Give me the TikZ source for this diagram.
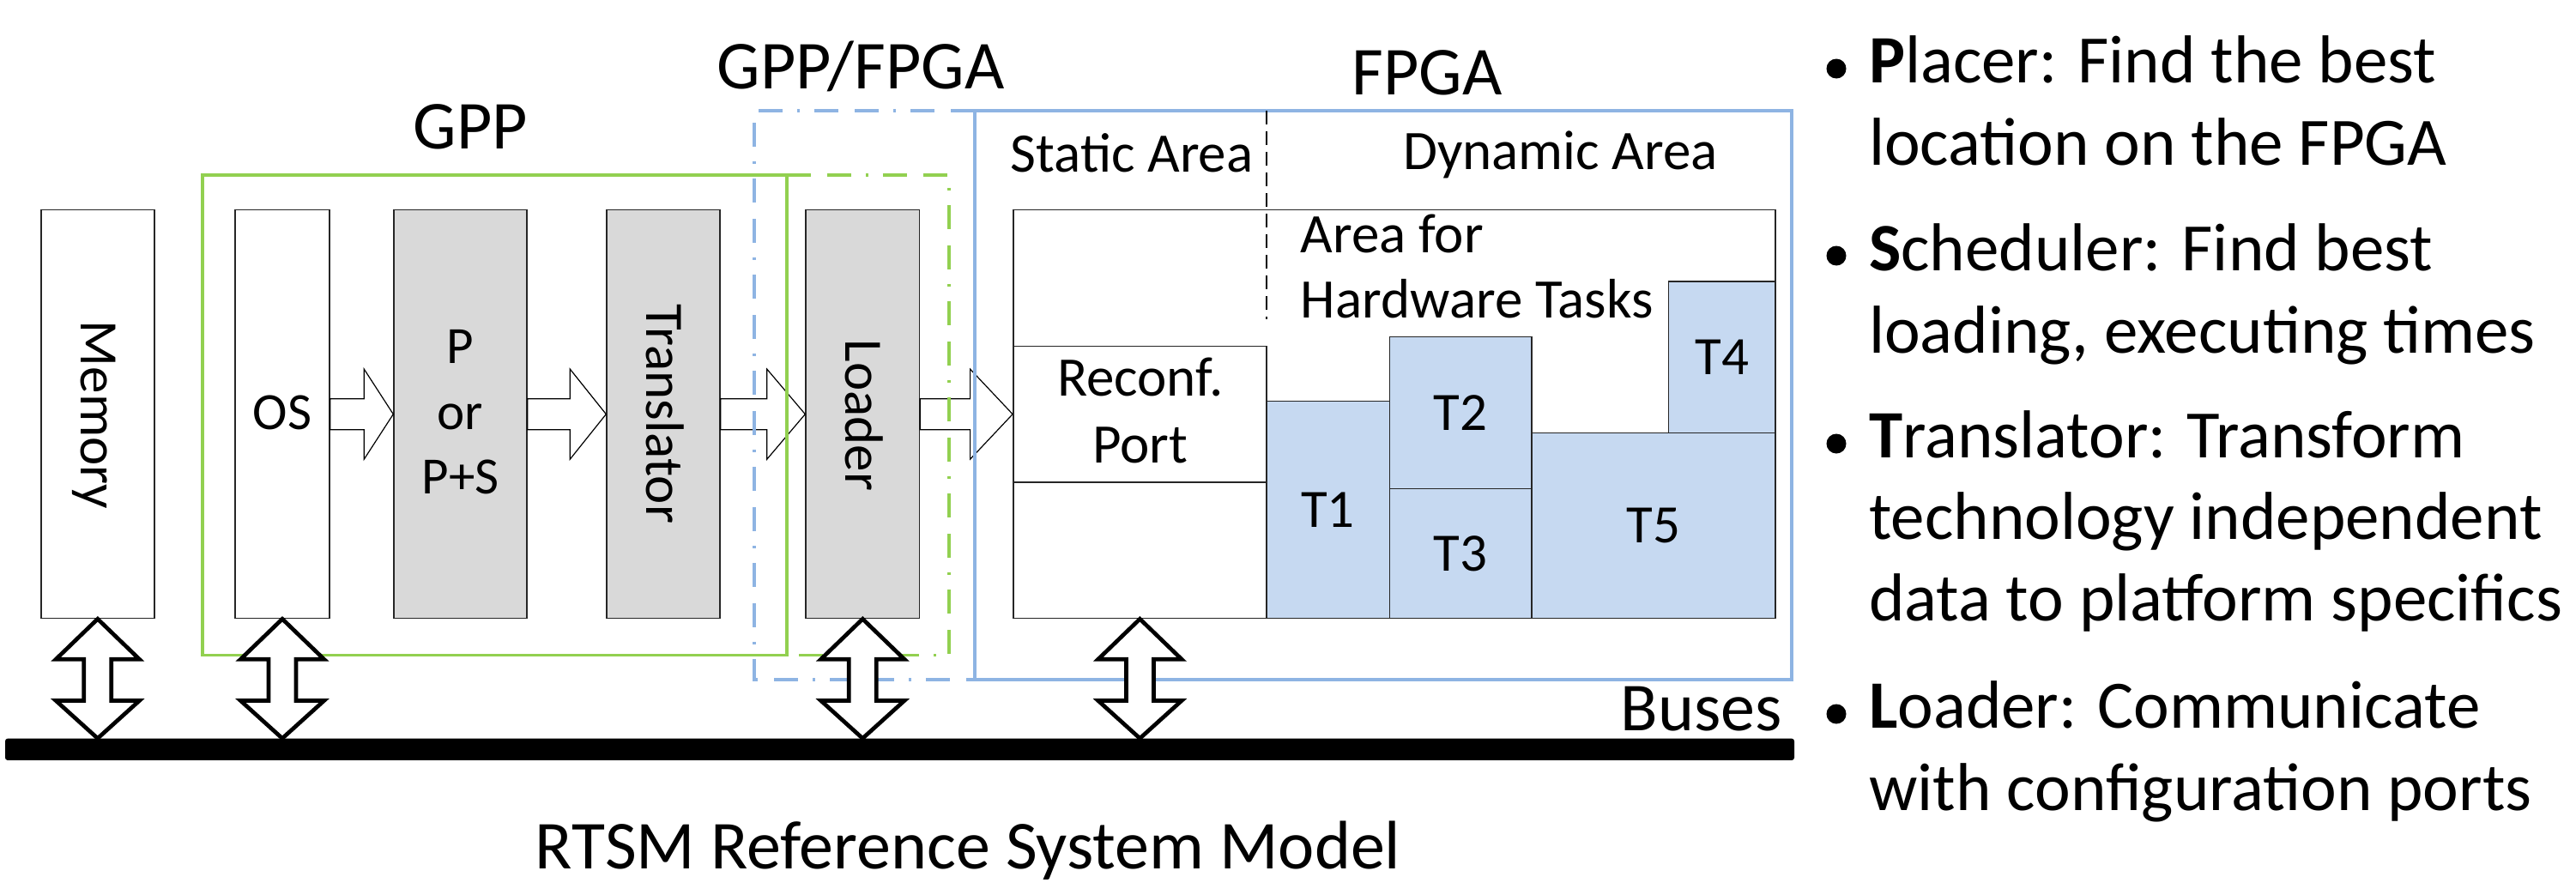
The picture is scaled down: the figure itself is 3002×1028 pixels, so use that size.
\documentclass[tikz,border=0pt]{standalone}
\usepackage{fontspec}
\setmainfont{Carlito}
\usetikzlibrary{calc}
\definecolor{gppgreen}{HTML}{92D050}
\definecolor{fpgablue}{HTML}{8EB4E3}
\definecolor{boxgray}{HTML}{D9D9D9}
\definecolor{taskblue}{HTML}{C6D9F1}
\newcommand\boxfont{\fontsize{61}{74}\selectfont}
\newcommand\rotfont{\fontsize{63}{76}\selectfont}
\newcommand\areafont{\fontsize{65}{78}\selectfont}
\newcommand\lblfont{\fontsize{80}{96}\selectfont}
\newcommand\bulfont{\fontsize{79}{96}\selectfont}
% right block arrow: from #1 to #2 with head length #3
\newcommand\rblock[3]{%
  \draw[blockarrow] ($(#1.east)+(0,-18)$) -- ($(#1.east -| #2.west)+(-#3,-18)$)
    -- ($(#1.east -| #2.west)+(-#3,-52.5)$) -- (#1.east -| #2.west)
    -- ($(#1.east -| #2.west)+(-#3,52.5)$) -- ($(#1.east -| #2.west)+(-#3,18)$)
    -- ($(#1.east)+(0,18)$) -- cycle;}
% vertical double block arrow from coordinate #1 down to node #2
\newcommand\dblock[2]{%
  \draw[dblarrow] (#1) -- ($(#1)+(48.7,47)$) -- ($(#1)+(16,47)$)
    -- ($(#1 |- #2.north)+(16,-44)$) -- ($(#1 |- #2.north)+(48.7,-44)$)
    -- (#1 |- #2.north) -- ($(#1 |- #2.north)+(-48.7,-44)$)
    -- ($(#1 |- #2.north)+(-16,-44)$) -- ($(#1)+(-16,47)$)
    -- ($(#1)+(-48.7,47)$) -- cycle;}
\tikzset{
  blockarrow/.style={draw=black, fill=white, line width=1.2pt, line join=miter},
  dblarrow/.style={draw=black, fill=white, line width=4.7pt, line join=miter},
  boxw/.style={draw=black!85, fill=white, line width=1.4pt, inner sep=0pt, minimum height=475.9pt},
  boxg/.style={boxw, fill=boxgray},
  task/.style={draw=black!85, fill=taskblue, line width=1.4pt, inner sep=0pt, font=\rotfont},
  boxtxt/.style={font=\boxfont, inner sep=0pt},
  rottxt/.style={font=\rotfont, inner sep=0pt, rotate=-90, anchor=base},
  areatxt/.style={font=\areafont, inner sep=0pt},
  lbl/.style={font=\lblfont, inner sep=0pt},
  bul/.style={font=\bulfont, inner sep=0pt, anchor=base west},
  gppline/.style={draw=gppgreen, line width=3.5pt},
  gppdd/.style={draw=gppgreen, line width=3.5pt, dash pattern=on 28pt off 19pt on 28pt off 17pt on 3pt off 17pt},
  fpgaline/.style={draw=fpgablue, line width=3.8pt},
  fpgadd/.style={draw=fpgablue, line width=3.8pt, dash pattern=on 28pt off 19pt on 28pt off 17pt on 3pt off 17pt},
  sepline/.style={draw=black, line width=1.6pt, dash pattern=on 16pt off 8pt},
}
\begin{document}
\begin{tikzpicture}[x=1pt, y=-1pt]
\useasboundingbox (0,0) rectangle (3002,1028);

% boxes
\node[boxw, minimum width=132pt] (mem) at (113.8,482.65) {};
\node[boxw, minimum width=110pt] (os) at (329,482.65) {};
\node[boxg, minimum width=155pt] (pps) at (536.5,482.65) {};
\node[boxg, minimum width=132pt] (trans) at (773,482.65) {};
\node[boxg, minimum width=132.6pt] (loader) at (1005.3,482.65) {};
\node[boxw, minimum width=888.2pt, minimum height=476.1pt] (fpgain) at (1624.9,482.55) {};

% right block arrows (under the frames)
\rblock{os}{pps}{34}
\rblock{pps}{trans}{42}
\rblock{trans}{loader}{44.5}
\rblock{loader}{fpgain}{49.5}

% frames
\draw[gppline] (236,204) rectangle (916.8,763.3);
\draw[gppdd] (916.8,204) -- (1106,204) -- (1106,763.3) -- (916.8,763.3);
\draw[fpgadd] (1136,129.3) -- (879,129.3) -- (879,792) -- (1136,792);
\draw[fpgaline] (1136,129.3) rectangle (2088,792);

% FPGA content
\node[draw=black!85, fill=white, line width=1.6pt, inner sep=0pt, minimum width=294.8pt, minimum height=158.4pt] (reconf) at (1328.4,482.5) {};
\node[task, minimum width=143.5pt, minimum height=253.2pt] (t1) at (1547.55,594) {T1};
\node[task, minimum width=165.7pt, minimum height=176.8pt] (t2) at (1702.15,480.9) {T2};
\node[task, minimum width=165.7pt, minimum height=151.3pt] (t3) at (1702.15,644.95) {T3};
\node[task, minimum width=124.5pt, minimum height=176.8pt] (t4) at (2006.75,416.2) {T4};
\node[task, minimum width=284pt, minimum height=216pt] (t5) at (1927,612.6) {T5};
\coordinate (sepTop) at (1475.8,129.3);
\coordinate (sepBot) at (1475.8,372);
\draw[sepline] (sepTop) -- (sepBot);

% bus
\node[fill=black, rounded corners=3pt, inner sep=0pt, minimum width=2085pt, minimum height=25.3pt] (bus) at (1048.5,873.3) {};

% double arrows
\coordinate (stb) at (reconf.center |- fpgain.south);
\dblock{mem.south}{bus}
\dblock{os.south}{bus}
\dblock{loader.south}{bus}
\dblock{stb}{bus}

% box texts
\node[rottxt] (memtxt) at (94.3,483.7) {Memory};
\node[boxtxt, anchor=base] (ostxt) at (329,500) {OS};
\node[boxtxt, anchor=base] (ptxt1) at (536.5,423.7) {P};
\node[boxtxt, anchor=base] (ptxt2) at (536.5,500) {or};
\node[boxtxt, anchor=base] (ptxt3) at (536.5,575) {P+S};
\node[rottxt] (trtxt) at (753,482.5) {Translator};
\node[rottxt] (ldtxt) at (985.5,484) {Loader};
\node[areatxt, anchor=base] (static) at (1319,200) {Static Area};
\node[areatxt, anchor=base] (dynamic) at (1818.5,197) {Dynamic Area};
\node[areatxt, anchor=base west] (area1) at (1515.6,294.3) {Area for};
\node[areatxt, anchor=base west] (area2) at (1515.6,370) {Hardware Tasks};
\node[areatxt, anchor=base] (rc1) at (1328.8,461.7) {Reconf.};
\node[areatxt, anchor=base] (rc2) at (1328.8,539.3) {Port};

% labels
\node[lbl, anchor=base] (gpplbl) at (548.5,173) {GPP};
\node[lbl, anchor=base] (gflbl) at (1003,103) {GPP/FPGA};
\node[lbl, anchor=base] (fpgalbl) at (1663,110) {FPGA};
\node[lbl, anchor=base east] (buslbl) at (2077,851.7) {Buses};
\node[lbl, anchor=base] (caption) at (1128,1012) {RTSM Reference System Model};

% bullet list
\fill (2140,80) circle (11.5);
\fill (2140,298) circle (11.5);
\fill (2140,517) circle (11.5);
\fill (2140,832) circle (11.5);
\node[bul] (b1a) at (2178,96.7) {\textbf{P}lacer: Find the best};
\node[bul] (b1b) at (2178,192.7) {location on the FPGA};
\node[bul] (b2a) at (2178,315) {\textbf{S}cheduler: Find best};
\node[bul] (b2b) at (2178,411) {loading, executing times};
\node[bul] (b3a) at (2178,533) {\textbf{T}ranslator: Transform};
\node[bul] (b3b) at (2178,628) {technology independent};
\node[bul] (b3c) at (2178,723) {data to platform specifics};
\node[bul] (b4a) at (2178,848) {\textbf{L}oader: Communicate};
\node[bul] (b4b) at (2178,944) {with configuration ports};
\end{tikzpicture}
\end{document}
